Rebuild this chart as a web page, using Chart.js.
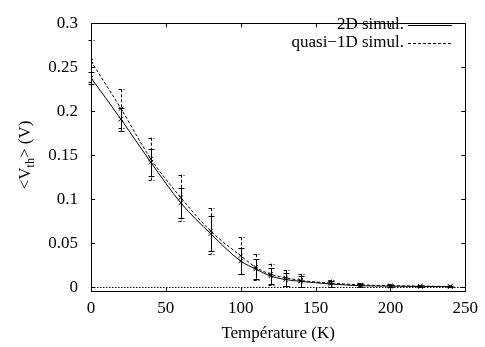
<!DOCTYPE html>
<html><head><meta charset="utf-8">
<script src="https://cdn.jsdelivr.net/npm/chart.js@4/dist/chart.umd.min.js"></script>
<style>html,body{margin:0;padding:0;background:#fff}#c{display:block}</style>
</head><body>
<canvas id="c" width="485" height="347"></canvas>
<script>
// ---- data ----
const temperatures = [0, 20, 40, 60, 80, 100, 110, 120, 130, 140, 160, 180, 200, 220, 240];
const vth2D      = [0.238, 0.191, 0.142, 0.096, 0.061, 0.030, 0.021, 0.013, 0.009, 0.007, 0.004, 0.002, 0.0015, 0.0012, 0.001];
const err2D      = [0.007, 0.013, 0.015, 0.017, 0.020, 0.015, 0.011, 0.009, 0.007, 0.006, 0.003, 0.002, 0.001, 0.001, 0.001];
const vthQuasi1D = [0.257, 0.203, 0.146, 0.102, 0.064, 0.036, 0.023, 0.015, 0.011, 0.008, 0.005, 0.003, 0.002, 0.0015, 0.0012];
const errQuasi1D = [0.024, 0.022, 0.024, 0.026, 0.026, 0.021, 0.015, 0.012, 0.009, 0.007, 0.004, 0.002, 0.0015, 0.001, 0.001];
const zeroLineX  = [0, 250];
const zeroLineY  = [0, 0];
const xTickValues = [0, 50, 100, 150, 200, 250];
const yTickValues = [0, 0.05, 0.1, 0.15, 0.2, 0.25, 0.3];
const seriesLabels = ['2D simul.', 'quasi\u22121D simul.'];
const xTitle = 'Température (K)';

const FONT = "'Liberation Serif', 'Times New Roman', serif";
const FS = 17;
const toPts = (xs, ys) => xs.map((x, i) => ({x: x, y: ys[i]}));

const frameAndTicks = {
  id: 'frameAndTicks',
  afterDatasetsDraw(chart) {
    const {ctx, chartArea: a, scales: {x, y}} = chart;
    ctx.save();
    ctx.strokeStyle = '#000';
    ctx.lineWidth = 1;
    ctx.setLineDash([]);
    ctx.strokeRect(Math.round(a.left) + 0.5, Math.round(a.top) + 0.5, Math.round(a.right - a.left), Math.round(a.bottom - a.top));
    const L = 4;
    ctx.beginPath();
    xTickValues.forEach(v => {
      const px = Math.round(x.getPixelForValue(v)) + 0.5;
      ctx.moveTo(px, a.bottom); ctx.lineTo(px, a.bottom - L);
      ctx.moveTo(px, a.top); ctx.lineTo(px, a.top + L);
    });
    yTickValues.forEach(v => {
      const py = Math.round(y.getPixelForValue(v)) + 0.5;
      ctx.moveTo(a.left, py); ctx.lineTo(a.left + L, py);
      ctx.moveTo(a.right, py); ctx.lineTo(a.right - L, py);
    });
    ctx.stroke();
    ctx.restore();
  }
};

const errorBars = {
  id: 'errorBars',
  afterDatasetsDraw(chart) {
    const {ctx, scales: {x, y}} = chart;
    const sets = [[vth2D, err2D, []], [vthQuasi1D, errQuasi1D, [3, 2]]];
    ctx.save();
    ctx.strokeStyle = '#000';
    ctx.lineWidth = 1;
    sets.forEach(([vals, errs, dash]) => {
      ctx.setLineDash(dash);
      ctx.beginPath();
      temperatures.forEach((t, i) => {
        const px = Math.round(x.getPixelForValue(t)) + 0.5;
        const y1 = y.getPixelForValue(vals[i] + errs[i]);
        const y2 = y.getPixelForValue(vals[i] - errs[i]);
        ctx.moveTo(px, y1); ctx.lineTo(px, y2);
        ctx.moveTo(px - 3, Math.round(y1) + 0.5); ctx.lineTo(px + 3, Math.round(y1) + 0.5);
        ctx.moveTo(px - 3, Math.round(y2) + 0.5); ctx.lineTo(px + 3, Math.round(y2) + 0.5);
      });
      ctx.stroke();
    });
    ctx.restore();
  }
};

const legendAndYTitle = {
  id: 'legendAndYTitle',
  afterDraw(chart) {
    const {ctx} = chart;
    ctx.save();
    ctx.fillStyle = '#000';
    ctx.strokeStyle = '#000';
    ctx.lineWidth = 1;
    ctx.font = FS + 'px ' + FONT;
    ctx.textAlign = 'right';
    ctx.textBaseline = 'middle';
    const rows = [[seriesLabels[0], 25, []], [seriesLabels[1], 43, [3, 2]]];
    rows.forEach(([txt, yy, dash]) => {
      ctx.fillText(txt, 404, yy);
      ctx.setLineDash(dash);
      ctx.beginPath();
      ctx.moveTo(408, yy + 0.5); ctx.lineTo(452, yy + 0.5);
      ctx.stroke();
    });
    ctx.setLineDash([]);
    // y axis title with subscript
    ctx.translate(25, 155);
    ctx.rotate(-Math.PI / 2);
    ctx.textAlign = 'left';
    ctx.textBaseline = 'alphabetic';
    const big = FS + 'px ' + FONT, small = '12px ' + FONT;
    const parts = [['<V', big, 0], ['th', small, 4], ['> (V)', big, 0]];
    let w = 0;
    parts.forEach(([t, f]) => { ctx.font = f; w += ctx.measureText(t).width; });
    let cx = -w / 2;
    parts.forEach(([t, f, dy]) => { ctx.font = f; ctx.fillText(t, cx, 5 + dy); cx += ctx.measureText(t).width; });
    ctx.restore();
  }
};

new Chart(document.getElementById('c'), {
  type: 'line',
  data: {
    datasets: [
      {
        label: seriesLabels[0],
        data: toPts(temperatures, vth2D),
        borderColor: '#000', borderWidth: 1, backgroundColor: '#000',
        pointStyle: 'crossRot', pointRadius: 3, pointBorderWidth: 1, pointBorderColor: '#000',
        cubicInterpolationMode: 'monotone', fill: false
      },
      {
        label: seriesLabels[1],
        data: toPts(temperatures, vthQuasi1D),
        borderColor: '#000', borderWidth: 1, borderDash: [3, 2], backgroundColor: '#000',
        pointStyle: 'crossRot', pointRadius: 3, pointBorderWidth: 1, pointBorderColor: '#000',
        cubicInterpolationMode: 'monotone', fill: false
      },
      {
        label: 'zero',
        data: toPts(zeroLineX, zeroLineY),
        borderColor: '#000', borderWidth: 1, borderDash: [1.5, 1.5],
        pointRadius: 0, fill: false
      }
    ]
  },
  options: {
    responsive: false,
    animation: false,
    devicePixelRatio: 1,
    layout: {padding: {left: 0, right: 13, top: 14, bottom: 0}},
    plugins: {legend: {display: false}, tooltip: {enabled: false}},
    scales: {
      x: {
        type: 'linear', min: 0, max: 250,
        afterBuildTicks: s => { s.ticks = xTickValues.map(v => ({value: v})); },
        afterFit: s => { s.height = 56; },
        grid: {display: false, drawTicks: false},
        border: {display: false},
        ticks: {color: '#000', font: {family: FONT, size: FS}, padding: 7, maxRotation: 0, callback: v => String(v)},
        title: {display: true, text: xTitle, color: '#000', font: {family: FONT, size: FS}, padding: {top: 2, bottom: 3.5}}
      },
      y: {
        type: 'linear', min: -0.004, max: 0.3,
        afterBuildTicks: s => { s.ticks = yTickValues.map(v => ({value: v})); },
        afterFit: s => { s.width = 91; },
        grid: {display: false, drawTicks: false},
        border: {display: false},
        ticks: {color: '#000', font: {family: FONT, size: FS}, padding: 13, callback: v => String(Math.round(v * 100) / 100)}
      }
    }
  },
  plugins: [frameAndTicks, errorBars, legendAndYTitle]
});
</script>
</body></html>
